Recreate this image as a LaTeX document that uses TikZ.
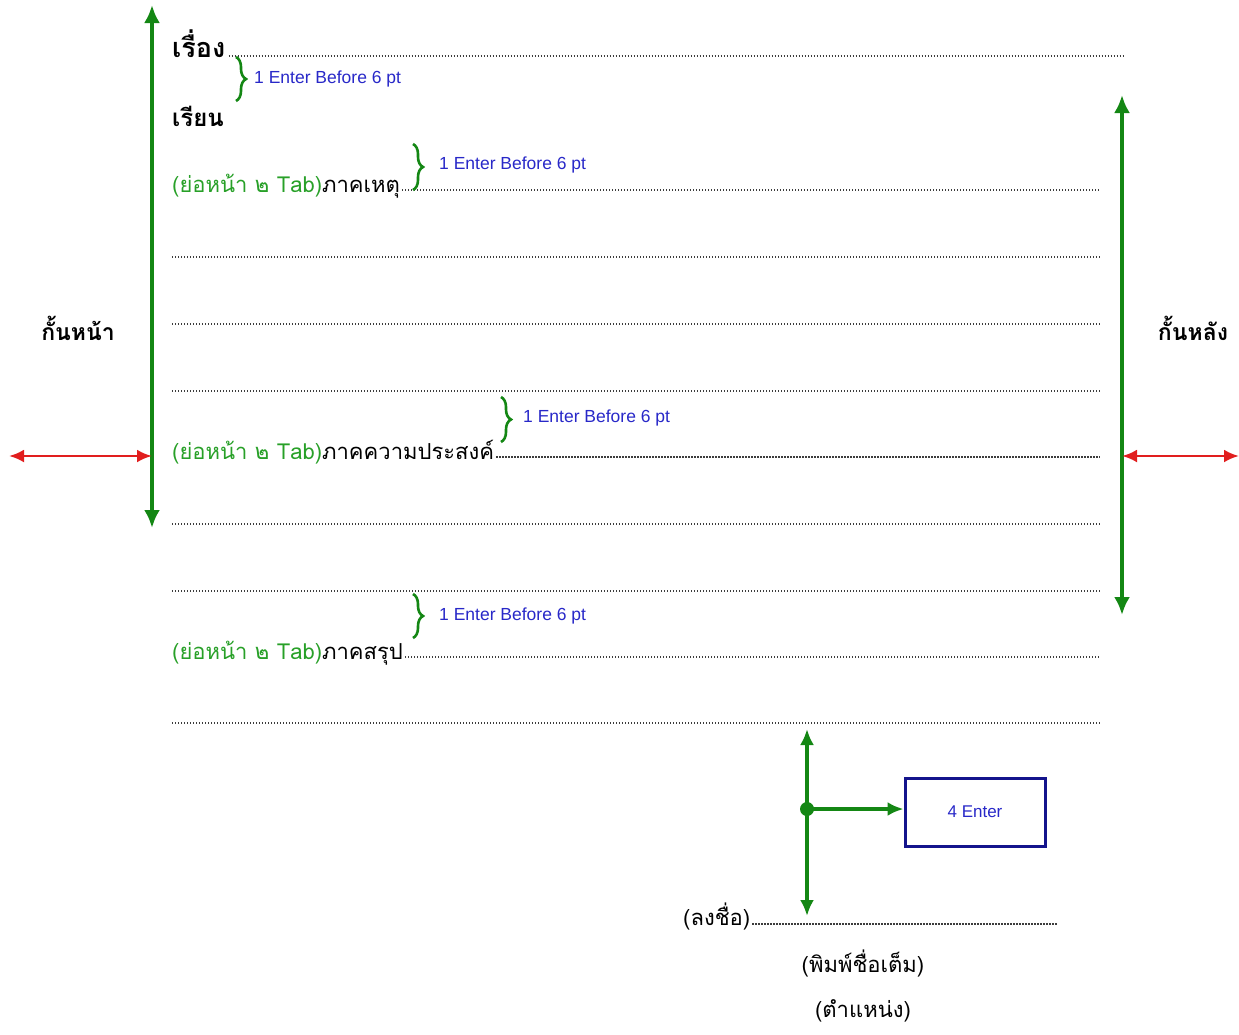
\documentclass[tikz,border=0pt]{standalone}
\usepackage{fontspec}
\usetikzlibrary{arrows.meta,decorations.pathreplacing}
\newfontfamily\thai[Script=Thai]{Loma}
\newfontfamily\latf{Liberation Sans}
\definecolor{agreen}{RGB}{20,135,20}
\definecolor{tgreen}{RGB}{40,160,40}
\definecolor{tblue}{RGB}{40,40,200}
\definecolor{bnavy}{RGB}{20,20,140}
\definecolor{ared}{RGB}{225,30,30}
\definecolor{dotc}{RGB}{60,60,60}
\tikzset{
  garrow/.style={draw=agreen,line width=4pt,{Latex[length=18pt,width=16pt]}-{Latex[length=18pt,width=16pt]}},
  rarrow/.style={draw=ared,line width=2.8pt,{Latex[length=15pt,width=13pt]}-{Latex[length=15pt,width=13pt]}},
  sarrow/.style={draw=agreen,line width=3.2pt,{Latex[length=16pt,width=14pt]}-{Latex[length=16pt,width=14pt]}},
  dots/.style={draw=dotc,line width=1.3pt,dash pattern=on 1.3pt off 1.7pt},
  thtext/.style={inner sep=0pt,font=\thai\fontsize{22}{26}\selectfont},
  thbold/.style={inner sep=0pt,font=\thai\bfseries\fontsize{24}{28}\selectfont},
  note/.style={inner sep=0pt,anchor=west,text=tblue,font=\latf\fontsize{17.5}{20}\selectfont},
  bracedec/.style={draw=agreen,line width=2.6pt,decorate,decoration={brace,amplitude=10pt}},
  enterbox/.style={draw=bnavy,line width=3pt,minimum width=140pt,minimum height=68pt,inner sep=0pt,text=tblue,font=\latf\fontsize{17}{20}\selectfont}
}
\begin{document}
\begin{tikzpicture}[x=1pt,y=-1pt]
\useasboundingbox (0,0) rectangle (1239,1034);
% margin arrows
\coordinate (lt) at (152,5);
\coordinate (lb) at (152,528);
\draw[garrow] (lt) -- (lb);
\coordinate (rt) at (1122,95);
\coordinate (rb) at (1122,615);
\draw[garrow] (rt) -- (rb);
\coordinate (redl0) at (9,456);
\coordinate (redl1) at (152,456);
\draw[rarrow] (redl0) -- (redl1);
\coordinate (redr0) at (1122,456);
\coordinate (redr1) at (1239,456);
\draw[rarrow] (redr0) -- (redr1);
\node[thbold,font=\thai\bfseries\fontsize{23}{28}\selectfont] (front) at (78,328) {กั้นหน้า};
\node[thbold,font=\thai\bfseries\fontsize{23}{28}\selectfont] (back) at (1193,328) {กั้นหลัง};
% title
\node[thbold,anchor=base west,font=\thai\bfseries\fontsize{27}{30}\selectfont] (title) at (172,57) {เรื่อง};
\coordinate (titleend) at (1125,56);
\draw[dots] (title.base east) ++(3,-1) -- (titleend);
\coordinate (b1t) at (236,57);
\coordinate (b1b) at (236,101);
\draw[bracedec] (b1t) -- (b1b);
\node[note] (n1) at (254,79) {1 Enter Before 6 pt};
\node[thbold,anchor=base west] (dear) at (172,126) {เรียน};
% para 1
\node[thtext,anchor=base west] (p1) at (172,192) {\textcolor{tgreen}{(ย่อหน้า ๒ Tab)}ภาคเหตุ};
\coordinate (p1end) at (1100,190);
\draw[dots] (p1.base east) ++(2,-2) -- (p1end);
\coordinate (b2t) at (413,144);
\coordinate (b2b) at (413,190);
\draw[bracedec] (b2t) -- (b2b);
\node[note] (n2) at (439,165) {1 Enter Before 6 pt};
% blank lines
\coordinate (l1a) at (172,257); \coordinate (l1b) at (1100,257);
\draw[dots] (l1a) -- (l1b);
\coordinate (l2a) at (172,324); \coordinate (l2b) at (1100,324);
\draw[dots] (l2a) -- (l2b);
\coordinate (l3a) at (172,391); \coordinate (l3b) at (1100,391);
\draw[dots] (l3a) -- (l3b);
% para 2
\node[thtext,anchor=base west] (p2) at (172,459) {\textcolor{tgreen}{(ย่อหน้า ๒ Tab)}ภาคความประสงค์};
\coordinate (p2end) at (1100,457);
\draw[dots] (p2.base east) ++(2,-2) -- (p2end);
\coordinate (b3t) at (501,397);
\coordinate (b3b) at (501,442);
\draw[bracedec] (b3t) -- (b3b);
\node[note] (n3) at (523,418) {1 Enter Before 6 pt};
\coordinate (l4a) at (172,524); \coordinate (l4b) at (1100,524);
\draw[dots] (l4a) -- (l4b);
\coordinate (l5a) at (172,591); \coordinate (l5b) at (1100,591);
\draw[dots] (l5a) -- (l5b);
% para 3
\node[thtext,anchor=base west] (p3) at (172,659) {\textcolor{tgreen}{(ย่อหน้า ๒ Tab)}ภาคสรุป};
\coordinate (p3end) at (1100,657);
\draw[dots] (p3.base east) ++(2,-2) -- (p3end);
\coordinate (b4t) at (413,594);
\coordinate (b4b) at (413,638);
\draw[bracedec] (b4t) -- (b4b);
\node[note] (n4) at (439,616) {1 Enter Before 6 pt};
\coordinate (l6a) at (172,723); \coordinate (l6b) at (1100,723);
\draw[dots] (l6a) -- (l6b);
% signature spacing
\coordinate (st) at (807,729);
\coordinate (sb) at (807,916);
\draw[sarrow] (st) -- (sb);
\coordinate (sm) at (807,809);
\fill[agreen] (sm) circle (7pt);
\node[enterbox] (box) at (975,812) {4 Enter};
\draw[draw=agreen,line width=3.2pt,-{Latex[length=16pt,width=14pt]}] (sm) -- (sm -| box.west);
% signature
\node[thtext,anchor=base west] (sign) at (683,925) {(ลงชื่อ)};
\coordinate (signend) at (1057,924);
\draw[dots] (sign.base east) ++(2,-1) -- (signend);
\node[thtext,anchor=base] (fullname) at (863,972) {(พิมพ์ชื่อเต็ม)};
\node[thtext,anchor=base] (position) at (863,1017) {(ตำแหน่ง)};
\end{tikzpicture}
\end{document}
